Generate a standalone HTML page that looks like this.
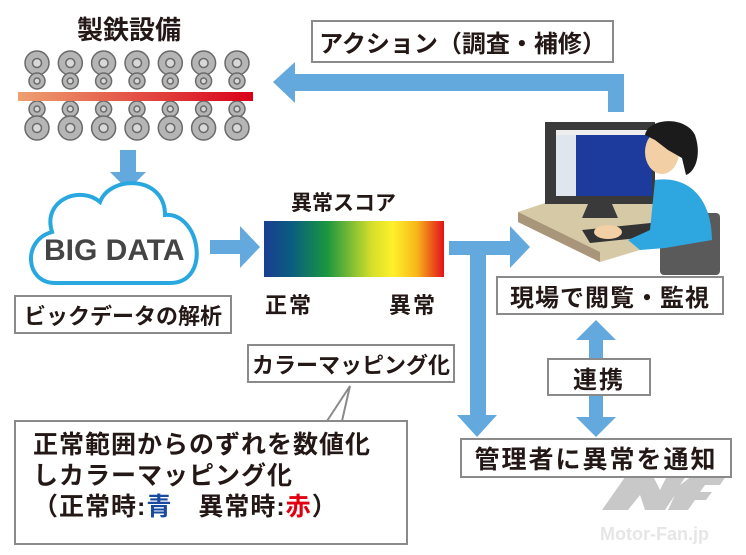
<!DOCTYPE html>
<html><head><meta charset="utf-8"><style>
body{margin:0;width:746px;height:555px;background:#fff;overflow:hidden;position:relative;font-family:"Liberation Sans","Noto Sans CJK JP",sans-serif;}
.b{position:absolute;border:2px solid #8a8a8a;background:#fff;box-sizing:border-box;color:#231815;font-weight:bold;white-space:nowrap;display:flex;align-items:center;justify-content:center;}
.t{position:absolute;color:#231815;font-weight:bold;white-space:nowrap;}
</style></head><body>
<svg width="746" height="555" style="position:absolute;left:0;top:0">
<defs>
<linearGradient id="bar" x1="0" x2="1"><stop offset="0" stop-color="#eea070"/><stop offset="1" stop-color="#d9001a"/></linearGradient>
<linearGradient id="sc" x1="0" x2="1"><stop offset="0" stop-color="#1b3d91"/><stop offset="0.15" stop-color="#0a5c80"/><stop offset="0.35" stop-color="#1a9640"/><stop offset="0.6" stop-color="#d6df2a"/><stop offset="0.72" stop-color="#fff02a"/><stop offset="0.85" stop-color="#f7b51a"/><stop offset="1" stop-color="#e3101a"/></linearGradient>
</defs>
<g stroke="#6a6a6a" stroke-width="1.5" fill="#b5b5b5">
<g id="r">
<circle cx="37" cy="63" r="12"/><circle cx="37" cy="63" r="4.5" fill="#d8d8d8"/>
<circle cx="37" cy="81" r="8"/><circle cx="37" cy="81" r="3" fill="#d8d8d8"/>
<circle cx="37" cy="109" r="8"/><circle cx="37" cy="109" r="3" fill="#d8d8d8"/>
<circle cx="37" cy="128" r="12"/><circle cx="37" cy="128" r="4.5" fill="#d8d8d8"/>
</g>
<use href="#r" x="33.3"/><use href="#r" x="66.6"/><use href="#r" x="100"/><use href="#r" x="133.3"/><use href="#r" x="166.6"/><use href="#r" x="200"/>
</g>
<rect x="18" y="92" width="235" height="9" fill="url(#bar)"/>
<g fill="#64a9dd">
<polygon points="120,150 136,150 136,172 146,172 128,190 110,172 120,172"/>
<polygon points="624,112 608,112 608,91 295,91 295,103 273,82 295,62 295,74 624,74"/>
<polygon points="210,240 240,240 240,226 260,247 240,268 240,254 210,254"/>
<polygon points="449,241 510,241 510,226 530,247 510,268 510,255 486,255 486,415 497,415 477,437 457,415 470,415 470,255 449,255"/>
<polygon points="596,320 616,340 603,340 603,417 616,417 596,437 576,417 589,417 589,340 576,340"/>
</g>
<path d="M55,283 C25,283 22,240 52,232 C42,200 80,185 100,202 C110,175 165,175 165,215 C200,212 212,283 170,283 Z" fill="#fff" stroke="#29a8e0" stroke-width="4"/>
<rect x="264" y="221" width="180" height="56" fill="url(#sc)"/>
<polygon points="327,421 350,386 342,421" fill="#fff" stroke="#8a8a8a" stroke-width="2"/>
<polygon points="518,212 545,203 690,203 690,235 600,262 518,222" fill="#d6c9a6"/>
<polygon points="518,212 600,252 600,262 518,222" fill="#a8957a"/>
<rect x="545" y="122" width="110" height="82" fill="#3a3a3a"/>
<rect x="556" y="130" width="96" height="66" fill="#1d3b9c"/>
<rect x="556" y="130" width="20" height="66" fill="#dfe6ee"/>
<rect x="556" y="130" width="96" height="5" fill="#eee"/>
<polygon points="588,204 612,204 618,218 582,218" fill="#3a3a3a"/>
<polygon points="582,230 660,222 668,235 590,243" fill="#333"/>
<rect x="660" y="213" width="60" height="62" rx="4" fill="#5a5a5a"/>
<path d="M655,180 C690,175 712,200 712,240 L665,248 L640,250 L628,240 L650,230 Z" fill="#2ea7e0"/>
<ellipse cx="608" cy="232" rx="14" ry="7" fill="#f2cfa5"/>
<ellipse cx="662" cy="152" rx="17" ry="22" fill="#f2cfa5"/>
<path d="M645,135 C648,118 685,115 695,135 C702,155 695,172 686,175 L682,158 L668,150 L655,140 Z" fill="#1b1b1b"/>
<polygon points="602,510 630,470 650,470 660,490 670,470 690,470 680,485 700,470 730,470 720,485 705,485 700,492 712,492 706,500 695,500 688,510 668,510 675,495 665,510 645,510 640,495 628,510" fill="#c8c8c8"/>
<text x="600" y="540" font-family="Liberation Sans" font-weight="bold" font-size="18" fill="#e6e6e6">Motor-Fan.jp</text>
</svg>
<div class="t" style="left:77px;top:10px;font-size:26px;">製鉄設備</div>
<div class="b" style="left:311px;top:20px;width:303px;height:43px;font-size:24px;">アクション（調査・補修）</div>
<div class="t" style="left:44px;top:234px;font-size:30px;color:#444;font-family:'Liberation Sans',sans-serif;">BIG DATA</div>
<div class="b" style="left:14px;top:295px;width:218px;height:39px;font-size:22px;">ビックデータの解析</div>
<div class="t" style="left:291px;top:187px;font-size:21px;">異常スコア</div>
<div class="t" style="left:265px;top:288px;font-size:22px;letter-spacing:2px;">正常</div>
<div class="t" style="left:389px;top:288px;font-size:22px;letter-spacing:2px;">異常</div>
<div class="b" style="left:247px;top:344px;width:208px;height:39px;font-size:22px;">カラーマッピング化</div>
<div class="b" style="left:14px;top:420px;width:394px;height:125px;font-size:25px;display:block;padding:8px 0 0 17px;line-height:31px;letter-spacing:1px;">正常範囲からのずれを数値化<br>しカラーマッピング化<br>（正常時:<span style="color:#1a4aa0">青</span>　異常時:<span style="color:#e00012">赤</span>）</div>
<div class="b" style="left:496px;top:276px;width:228px;height:39px;font-size:24px;letter-spacing:1px;">現場で閲覧・監視</div>
<div class="b" style="left:547px;top:358px;width:104px;height:38px;font-size:24px;letter-spacing:2px;">連携</div>
<div class="b" style="left:460px;top:438px;width:272px;height:40px;font-size:25px;letter-spacing:2px;">管理者に異常を通知</div>
</body></html>
